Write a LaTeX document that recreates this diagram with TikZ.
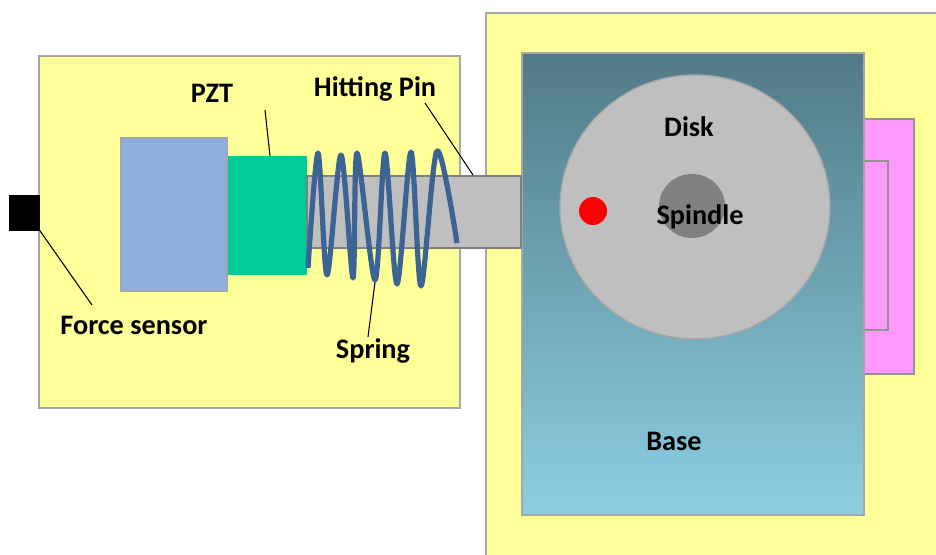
\documentclass[tikz,border=0pt]{standalone}
\usepackage{fontspec}
\setmainfont{Carlito}
\definecolor{edgegray}{HTML}{A6A6A6}
\definecolor{boxyellow}{HTML}{FFFF99}
\definecolor{massblue}{HTML}{8EB0E0}
\definecolor{pztgreen}{HTML}{00CC99}
\definecolor{pinkish}{HTML}{FF99FF}
\definecolor{pingray}{HTML}{BFBFBF}
\definecolor{pinedge}{HTML}{7F7F7F}
\definecolor{spindlegray}{HTML}{808080}
\definecolor{springblue}{HTML}{3B6494}
\definecolor{basetop}{HTML}{527A87}
\definecolor{basebot}{HTML}{8CCFE2}
\tikzset{
  part/.style={draw=edgegray,line width=1.9pt},
  thinpart/.style={draw=pinedge!85,line width=1pt},
  lead/.style={draw=black,line width=0.8pt},
  lbl/.style={font=\bfseries\fontsize{21.2}{24}\selectfont,text=black,inner sep=0pt},
}
\begin{document}
\begin{tikzpicture}[x=0.75pt,y=-0.75pt]
\useasboundingbox (0,0) rectangle (936,554);
\clip (0,0) rectangle (936,554);
\fill[white] (0,0) rectangle (936,554);
% right block
\draw[part,fill=boxyellow] (486,13) rectangle (960,580);
\draw[thinpart,fill=pinkish] (850,119) rectangle (914,374);
\draw[thinpart,fill=pinkish] (850,161) rectangle (888,330);
\shade[top color=basetop,bottom color=basebot] (522,53) rectangle (864,515);
\draw[part] (522,53) rectangle (864,515);
\draw[draw=edgegray,line width=1pt,fill=pingray] (695,207) ellipse [x radius=135,y radius=132];
\fill[spindlegray] (692,206) ellipse [x radius=33,y radius=32];
\fill[red] (593,211) circle [radius=14];
% left block
\draw[part,fill=boxyellow] (39,56) rectangle (460,408);
\fill[black] (9,195) rectangle (40,231);
\draw[part,fill=massblue] (121,138) rectangle (227,291);
\fill[pztgreen] (228,156) rectangle (307,275);
\draw[draw=pinedge,line width=1.9pt,fill=pingray] (307,176) rectangle (521,248);
% labels
\node[lbl] (pzt) at (212,93) {PZT};
\node[lbl] (pin) at (375,89) {Hitting Pin};
\node[lbl] (force) at (134,325) {Force sensor};
\node[lbl] (spring) at (373,351) {Spring};
\node[lbl] (disk) at (689,127) {Disk};
\node[lbl] (spindle) at (700,217) {Spindle};
\node[lbl] (base) at (674,441) {Base};
% leaders
\coordinate (pztEnd) at (270,156);
\coordinate (pinEnd) at (473,175);
\coordinate (sensorEnd) at (38,228);
\coordinate (springEnd) at (375,282);
\draw[lead] (265,110) -- (pztEnd);
\draw[lead] (425,103) -- (pinEnd);
\draw[lead] (92,305) -- (sensorEnd);
\draw[lead] (368,337) -- (springEnd);
% spring
\draw[springblue,line width=3.9pt,line join=round] plot[smooth,tension=0.5] coordinates {
(308,268) (318,153) (327,275) (341,155) (353,278) (357,153) (375,280) (385,153) (397,284) (411,152) (421,286) (437,151) (457,243)};
\end{tikzpicture}
\end{document}
